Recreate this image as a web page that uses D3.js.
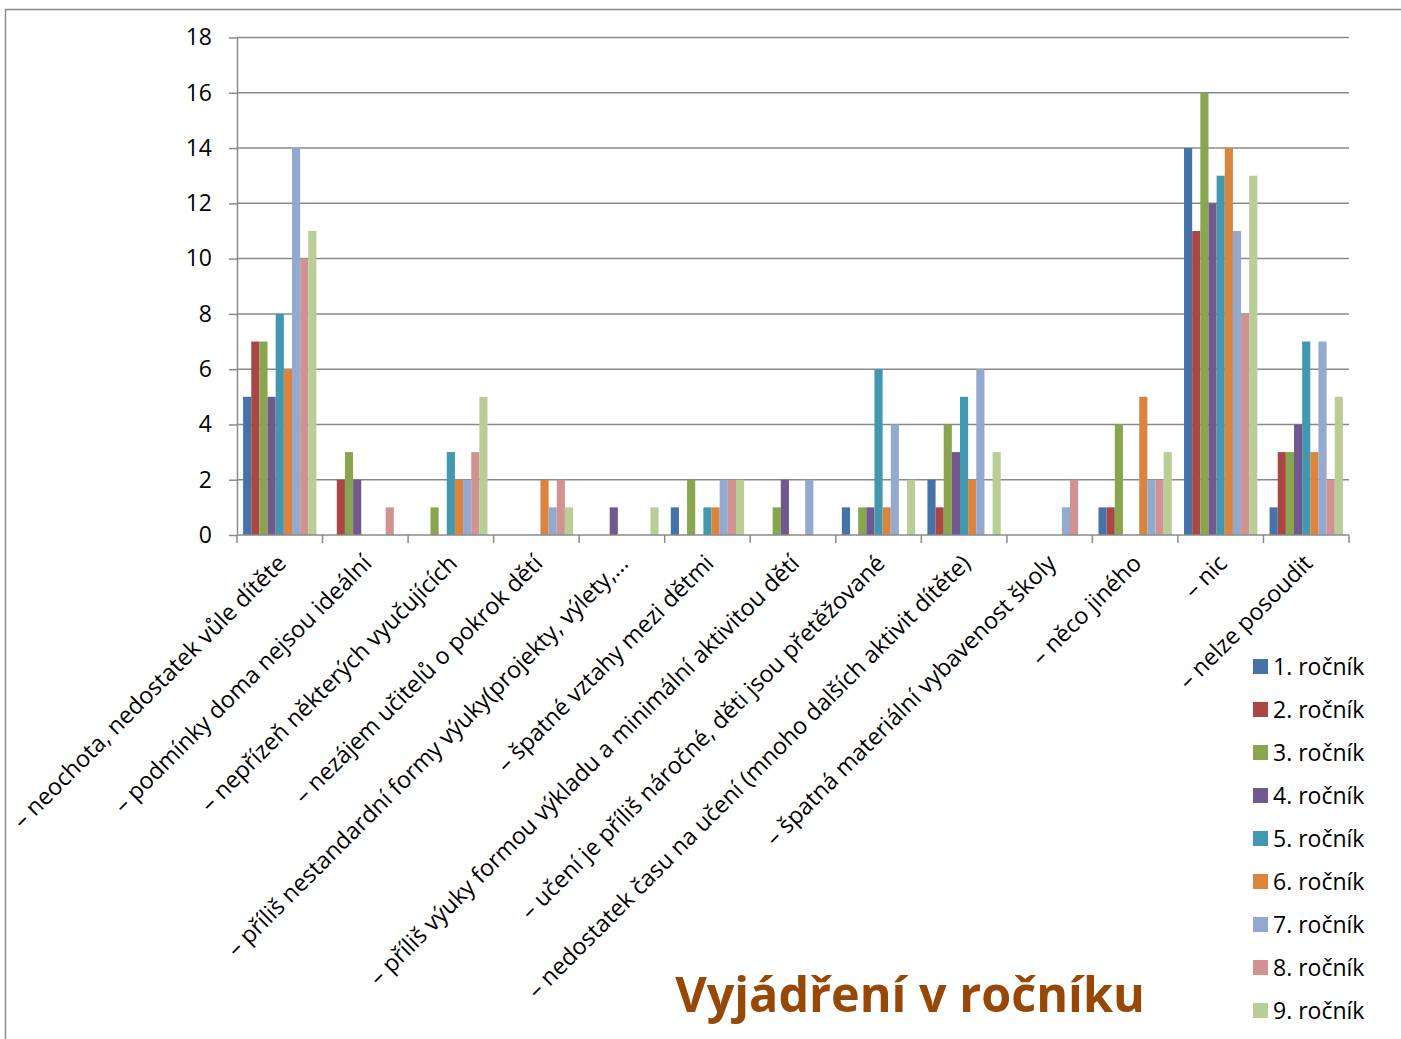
<!DOCTYPE html>
<html lang="cs">
<head>
  <meta charset="UTF-8">
  <title>Vyjádření v ročníku</title>
  <script src="https://d3js.org/d3.v7.min.js"></script>
</head>
<body style="margin: 0; background: #fff;">
<div id="chart"></div>
<script>
  // categories (x axis)
  const categories = [
    "– neochota, nedostatek vůle dítěte",
    "– podmínky doma nejsou ideální",
    "– nepřízeň některých vyučujících",
    "– nezájem učitelů o pokrok dětí",
    "– příliš nestandardní formy výuky(projekty, výlety,…",
    "– špatné vztahy mezi dětmi",
    "– příliš výuky formou výkladu a minimální aktivitou dětí",
    "– učení je příliš náročné, děti jsou přetěžované",
    "– nedostatek času na učení (mnoho dalších aktivit dítěte)",
    "– špatná materiální vybavenost školy",
    "– něco jiného",
    "– nic",
    "– nelze posoudit"
  ];

  const seriesNames = ["1. ročník", "2. ročník", "3. ročník", "4. ročník", "5. ročník",
                       "6. ročník", "7. ročník", "8. ročník", "9. ročník"];

  const seriesColors = ["#4572A7", "#AA4643", "#89A54E", "#71588F", "#4198AF",
                        "#DB843D", "#93A9CF", "#D19392", "#B9CD96"];

  // one array per category, values for grades 1..9
  const values = [
    [5, 7, 7, 5, 8, 6, 14, 10, 11],
    [0, 2, 3, 2, 0, 0, 0, 1, 0],
    [0, 0, 1, 0, 3, 2, 2, 3, 5],
    [0, 0, 0, 0, 0, 2, 1, 2, 1],
    [0, 0, 0, 1, 0, 0, 0, 0, 1],
    [1, 0, 2, 0, 1, 1, 2, 2, 2],
    [0, 0, 1, 2, 0, 0, 2, 0, 0],
    [1, 0, 1, 1, 6, 1, 4, 0, 2],
    [2, 1, 4, 3, 5, 2, 6, 0, 3],
    [0, 0, 0, 0, 0, 0, 1, 2, 0],
    [1, 1, 4, 0, 0, 5, 2, 2, 3],
    [14, 11, 16, 12, 13, 14, 11, 8, 13],
    [1, 3, 3, 4, 7, 3, 7, 2, 5]
  ];

  const yTicks = [0, 2, 4, 6, 8, 10, 12, 14, 16, 18];

  const chartTitle = "Vyjádření v ročníku";

  const width = 1401;
  const height = 1039;
  const plot = { left: 237, right: 1349, top: 37.5, bottom: 535 };
  const font = "'Open Sans', sans-serif";

  const svg = d3.select("#chart").append("svg")
    .attr("width", width)
    .attr("height", height)
    .style("display", "block");

  // outer frame
  svg.append("rect")
    .attr("x", 5.5).attr("y", 9.5)
    .attr("width", width).attr("height", height)
    .attr("fill", "none")
    .attr("stroke", "#8a8a8a")
    .attr("stroke-width", 1.5);

  const x0 = d3.scaleBand()
    .domain(categories)
    .range([plot.left, plot.right]);

  const bw = x0.bandwidth();
  const gap = bw * 1.5 / 10.5;   // excel gap width 150%

  const x1 = d3.scaleBand()
    .domain(seriesNames)
    .range([gap / 2, bw - gap / 2]);

  const y = d3.scaleLinear()
    .domain([0, 18])
    .range([plot.bottom, plot.top]);

  // gridlines + left axis
  const yAxis = svg.append("g")
    .attr("transform", `translate(${plot.left},0)`)
    .call(d3.axisLeft(y).tickValues(yTicks).tickSize(8).tickPadding(17)
      .tickSizeOuter(0));
  yAxis.select(".domain").attr("stroke", "#8a8a8a").attr("stroke-width", 1.5);
  yAxis.selectAll(".tick line").attr("stroke", "#8a8a8a").attr("stroke-width", 1.5);
  yAxis.selectAll(".tick text")
    .attr("fill", "#000")
    .style("font-family", font)
    .style("font-size", "23px");

  svg.append("g")
    .selectAll("line")
    .data(yTicks.filter(d => d > 0))
    .enter().append("line")
    .attr("x1", plot.left).attr("x2", plot.right)
    .attr("y1", d => y(d)).attr("y2", d => y(d))
    .attr("stroke", "#8a8a8a")
    .attr("stroke-width", 1.5);

  // bars
  const groups = svg.append("g")
    .selectAll("g")
    .data(values)
    .enter().append("g")
    .attr("transform", (d, i) => `translate(${x0(categories[i])},0)`);

  groups.selectAll("rect")
    .data(d => d.map((v, j) => ({ v, j })))
    .enter().append("rect")
    .filter(d => d.v > 0)
    .attr("x", d => x1(seriesNames[d.j]))
    .attr("y", d => y(d.v))
    .attr("width", x1.bandwidth())
    .attr("height", d => y(0) - y(d.v))
    .attr("fill", d => seriesColors[d.j]);

  // x axis with ticks between categories
  svg.append("line")
    .attr("x1", plot.left).attr("x2", plot.right)
    .attr("y1", plot.bottom).attr("y2", plot.bottom)
    .attr("stroke", "#8a8a8a")
    .attr("stroke-width", 1.5);

  svg.append("g")
    .selectAll("line")
    .data(d3.range(categories.length + 1))
    .enter().append("line")
    .attr("x1", i => plot.left + i * bw)
    .attr("x2", i => plot.left + i * bw)
    .attr("y1", plot.bottom)
    .attr("y2", plot.bottom + 8)
    .attr("stroke", "#8a8a8a")
    .attr("stroke-width", 1.5);

  svg.append("g")
    .selectAll("text")
    .data(categories)
    .enter().append("text")
    .attr("transform", d => `translate(${x0(d) + bw / 2 + 2},${plot.bottom + 24}) rotate(-45)`)
    .attr("text-anchor", "end")
    .attr("dy", "0.35em")
    .style("font-family", font)
    .style("font-size", "23.4px")
    .attr("fill", "#000")
    .text(d => d);

  // legend
  const legend = svg.append("g")
    .selectAll("g")
    .data(seriesNames)
    .enter().append("g")
    .attr("transform", (d, i) => `translate(1253,${659 + i * 43})`);

  legend.append("rect")
    .attr("width", 15).attr("height", 15)
    .attr("fill", (d, i) => seriesColors[i]);

  legend.append("text")
    .attr("x", 20).attr("y", 7.5)
    .attr("dy", "0.35em")
    .style("font-family", font)
    .style("font-size", "23px")
    .attr("fill", "#000")
    .text(d => d);

  // title
  svg.append("text")
    .attr("x", 910).attr("y", 1012)
    .attr("text-anchor", "middle")
    .style("font-family", font)
    .style("font-weight", "bold")
    .style("font-size", "48.5px")
    .attr("fill", "#974806")
    .text(chartTitle);
</script>
</body>
</html>
